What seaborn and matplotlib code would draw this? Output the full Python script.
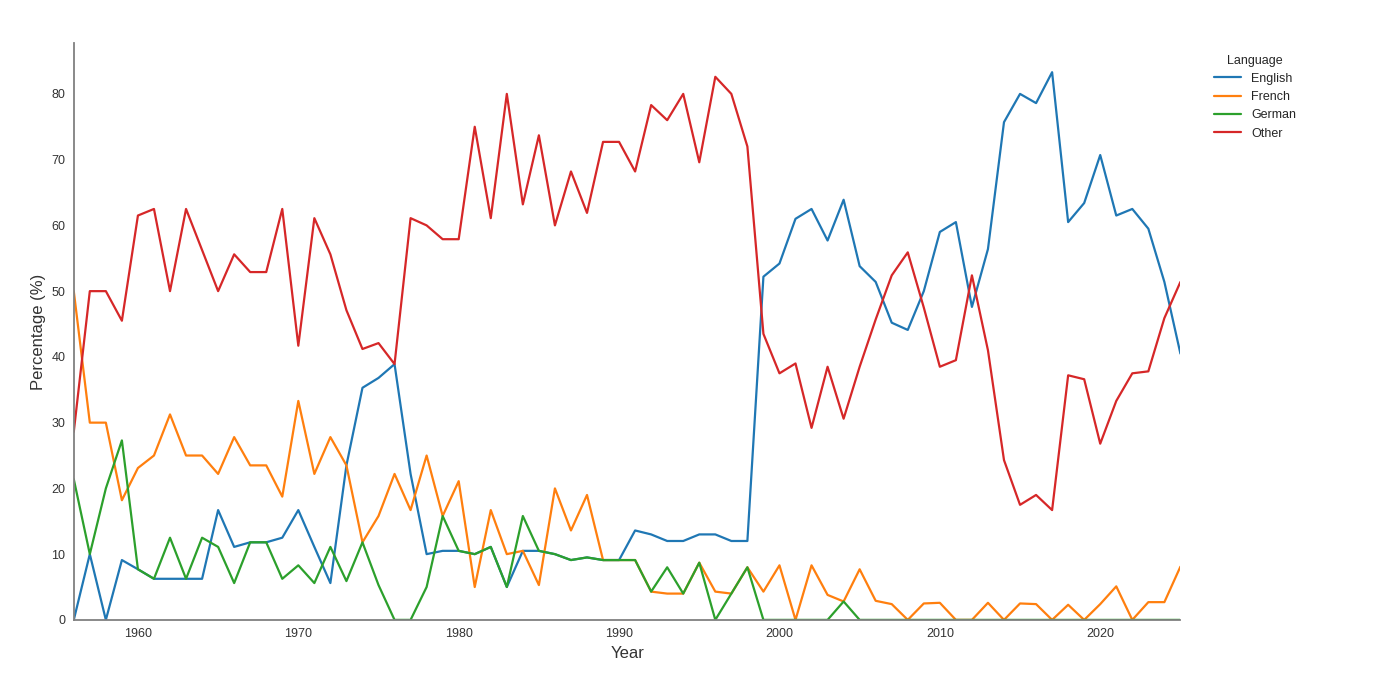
import pandas as pd
import matplotlib
matplotlib.use("Agg")
import matplotlib.pyplot as plt
import seaborn as sns

# Share of each language per year (%)
years = list(range(1956, 2026))

english = [0, 10.0, 0, 9.1, 7.7, 6.25, 6.25, 6.25, 6.25, 16.7,
           11.1, 11.8, 11.8, 12.5, 16.7, 11.1, 5.6, 23.5, 35.3, 36.8,
           38.9, 22.2, 10.0, 10.5, 10.5, 10.0, 11.1, 5.0, 10.5, 10.5,
           10.0, 9.1, 9.5, 9.1, 9.1, 13.6, 13.0, 12.0, 12.0, 13.0,
           13.0, 12.0, 12.0, 52.2, 54.2, 61.0, 62.5, 57.7, 63.9, 53.8,
           51.4, 45.2, 44.1, 50.0, 59.0, 60.5, 47.6, 56.4, 75.7, 80.0,
           78.6, 83.3, 60.5, 63.4, 70.7, 61.5, 62.5, 59.5, 51.4, 40.5]

french = [50.0, 30.0, 30.0, 18.2, 23.1, 25.0, 31.25, 25.0, 25.0, 22.2,
          27.8, 23.5, 23.5, 18.75, 33.3, 22.2, 27.8, 23.5, 11.8, 15.8,
          22.2, 16.7, 25.0, 15.8, 21.1, 5.0, 16.7, 10.0, 10.5, 5.3,
          20.0, 13.6, 19.0, 9.1, 9.1, 9.1, 4.3, 4.0, 4.0, 8.7,
          4.3, 4.0, 8.0, 4.3, 8.3, 0, 8.3, 3.8, 2.8, 7.7,
          2.9, 2.4, 0, 2.5, 2.6, 0, 0, 2.6, 0, 2.5,
          2.4, 0, 2.3, 0, 2.4, 5.1, 0, 2.7, 2.7, 8.1]

german = [21.4, 10.0, 20.0, 27.3, 7.7, 6.25, 12.5, 6.25, 12.5, 11.1,
          5.6, 11.8, 11.8, 6.25, 8.3, 5.6, 11.1, 5.9, 11.8, 5.3,
          0, 0, 5.0, 15.8, 10.5, 10.0, 11.1, 5.0, 15.8, 10.5,
          10.0, 9.1, 9.5, 9.1, 9.1, 9.1, 4.3, 8.0, 4.0, 8.7,
          0, 4.0, 8.0, 0, 0, 0, 0, 0, 2.8, 0,
          0, 0, 0, 0, 0, 0, 0, 0, 0, 0,
          0, 0, 0, 0, 0, 0, 0, 0, 0, 0]

other = [28.6, 50.0, 50.0, 45.5, 61.5, 62.5, 50.0, 62.5, 56.25, 50.0,
         55.6, 52.9, 52.9, 62.5, 41.7, 61.1, 55.6, 47.1, 41.2, 42.1,
         38.9, 61.1, 60.0, 57.9, 57.9, 75.0, 61.1, 80.0, 63.2, 73.7,
         60.0, 68.2, 61.9, 72.7, 72.7, 68.2, 78.3, 76.0, 80.0, 69.6,
         82.6, 80.0, 72.0, 43.5, 37.5, 39.0, 29.2, 38.5, 30.6, 38.5,
         45.7, 52.4, 55.9, 47.5, 38.5, 39.5, 52.4, 41.0, 24.3, 17.5,
         19.0, 16.7, 37.2, 36.6, 26.8, 33.3, 37.5, 37.8, 45.9, 51.4]

languages = ["English", "French", "German", "Other"]

df = pd.DataFrame({"Year": years, "English": english, "French": french,
                   "German": german, "Other": other})
long_df = df.melt(id_vars="Year", value_vars=languages,
                  var_name="Language", value_name="Percentage")

sns.set_theme(style="white")
plt.rcParams["font.family"] = ["Liberation Sans", "DejaVu Sans"]

fig, ax = plt.subplots(figsize=(13.92, 6.76), dpi=100)
fig.subplots_adjust(left=0.053, right=0.848, top=0.936, bottom=0.083)

sns.lineplot(data=long_df, x="Year", y="Percentage", hue="Language",
             hue_order=languages, palette="tab10", linewidth=1.6, ax=ax)

ax.set_xlim(1956, 2025)
ax.set_ylim(0, 87.7)
ax.set_xlabel("Year", fontsize=12, color="#333333")
ax.set_ylabel("Percentage (%)", fontsize=12, color="#333333")
ax.tick_params(axis="both", labelsize=9, colors="#333333", length=0, pad=6)

sns.despine(ax=ax)
for side in ["left", "bottom"]:
    ax.spines[side].set_color("#808080")
    ax.spines[side].set_linewidth(1.3)

leg = ax.legend(title="Language", loc="upper left", bbox_to_anchor=(1.02, 1.0),
                frameon=False, fontsize=9, title_fontsize=9, handlelength=2.2)
for line in leg.get_lines():
    line.set_linewidth(1.6)

fig.savefig("out.png", dpi=100)
